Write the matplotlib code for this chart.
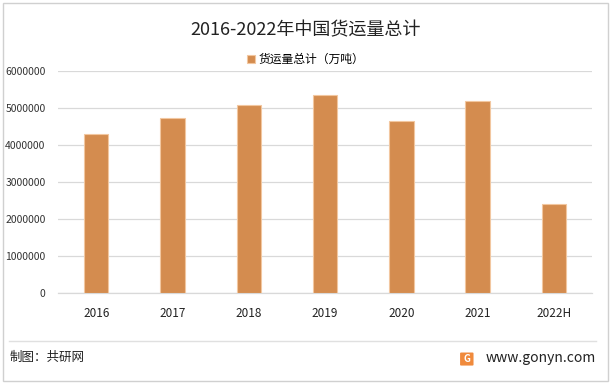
import matplotlib
matplotlib.use("Agg")
import matplotlib.pyplot as plt
from matplotlib.patches import Rectangle, FancyBboxPatch
from matplotlib.lines import Line2D

plt.rcParams['font.family'] = ['Noto Sans CJK SC', 'DejaVu Sans']

years = ["2016", "2017", "2018", "2019", "2020", "2021", "2022H"]
freight = [4300000, 4710000, 5060000, 5330000, 4630000, 5190000, 2390000]
yticks = [0, 1000000, 2000000, 3000000, 4000000, 5000000, 6000000]

bar_color = "#D48C4F"
grid_color = "#D9D9D9"

fig = plt.figure(figsize=(6.11, 3.84), dpi=100)
ax = fig.add_axes([0.095, 0.237, 0.874, 0.579])

x = list(range(len(years)))
ax.bar(x, freight, width=0.32, color=bar_color, edgecolor="#F2C7A0", linewidth=0.8,
       label="货运量总计（万吨）", zorder=3)

ax.set_ylim(0, 6000000)
ax.set_xlim(-0.5, len(years) - 0.5)
ax.set_yticks(yticks)
ax.set_yticklabels([str(v) for v in yticks], fontsize=7.5, color="#333333")
ax.set_xticks(x)
ax.set_xticklabels(years, fontsize=8.5, color="#222222")
ax.tick_params(axis="y", length=0, pad=9)
ax.tick_params(axis="x", length=0, pad=10)
ax.grid(axis="y", color=grid_color, linewidth=0.9, zorder=0)
for s in ["top", "right", "left"]:
    ax.spines[s].set_visible(False)
ax.spines["bottom"].set_color(grid_color)
ax.spines["bottom"].set_linewidth(0.9)

fig.text(0.5, 0.922, "2016-2022年中国货运量总计", ha="center", va="center",
         fontsize=13, color="#222222")
ax.legend(loc="center", bbox_to_anchor=(0.5, 0.845), bbox_transform=fig.transFigure,
          frameon=False, fontsize=8.5, handlelength=0.7, handleheight=0.7,
          handletextpad=0.3)

# outer border and footer separator
fig.patches.append(Rectangle((0.005, 0.008), 0.99, 0.984, transform=fig.transFigure,
                             fill=False, edgecolor="#D0D0D0", linewidth=1.0))
fig.lines.append(Line2D([0.015, 0.975], [0.112, 0.112], transform=fig.transFigure,
                        color="#E0E0E0", linewidth=1.0))

fig.text(0.015, 0.068, "制图：共研网", ha="left", va="center", fontsize=9, color="#222222")
fig.patches.append(FancyBboxPatch((0.755, 0.05), 0.018, 0.03, transform=fig.transFigure,
                                  boxstyle="round,pad=0.002", facecolor="#F08A3C",
                                  edgecolor="none"))
fig.text(0.764, 0.066, "G", ha="center", va="center", fontsize=7, color="white",
         fontweight="bold")
fig.text(0.976, 0.068, "www.gonyn.com", ha="right", va="center", fontsize=10, color="#222222")

fig.savefig("out.png", dpi=100)
